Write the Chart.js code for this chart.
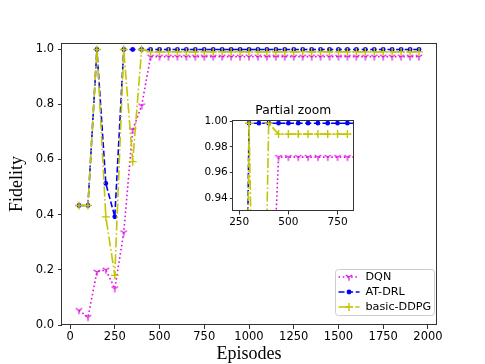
<!DOCTYPE html>
<html>
<head>
<meta charset="utf-8">
<script src="https://cdn.jsdelivr.net/npm/chart.js@4.4.1/dist/chart.umd.min.js"></script>
<style>
  html, body { margin: 0; padding: 0; background: #fff; }
  #wrap { position: relative; width: 485px; height: 364px; }
  #main { position: absolute; left: 0; top: 0; }
  #zoom { position: absolute; left: 190px; top: 95px; }
</style>
</head>
<body>
<div id="wrap">
  <canvas id="main" width="485" height="364"></canvas>
  <canvas id="zoom" width="170" height="135"></canvas>
</div>
<script>
// episodes (x values)
const episodes = [50, 100, 150, 200, 250, 300, 350, 400, 450, 500, 550, 600, 650, 700, 750, 800,
  850, 900, 950, 1000, 1050, 1100, 1150, 1200, 1250, 1300, 1350, 1400, 1450, 1500, 1550, 1600,
  1650, 1700, 1750, 1800, 1850, 1900, 1950];

// fidelity per method
const dqn = [0.053, 0.028, 0.192, 0.200, 0.132, 0.335, 0.707, 0.795, 0.972, 0.972, 0.972, 0.972,
  0.972, 0.972, 0.972, 0.972, 0.972, 0.972, 0.972, 0.972, 0.972, 0.972, 0.972, 0.972, 0.972,
  0.972, 0.972, 0.972, 0.972, 0.972, 0.972, 0.972, 0.972, 0.972, 0.972, 0.972, 0.972, 0.972, 0.972];
const atDrl = [0.433, 0.433, 0.9985, 0.513, 0.392, 0.9985, 0.9985, 0.9985, 0.9985, 0.9985, 0.9985,
  0.9985, 0.9985, 0.9985, 0.9985, 0.9985, 0.9985, 0.9985, 0.9985, 0.9985, 0.9985, 0.9985, 0.9985,
  0.9985, 0.9985, 0.9985, 0.9985, 0.9985, 0.9985, 0.9985, 0.9985, 0.9985, 0.9985, 0.9985, 0.9985,
  0.9985, 0.9985, 0.9985, 0.9985];
const basicDdpg = [0.433, 0.433, 0.9985, 0.392, 0.180, 0.9985, 0.592, 0.9985, 0.990, 0.990, 0.990,
  0.990, 0.990, 0.990, 0.990, 0.990, 0.990, 0.990, 0.990, 0.990, 0.990, 0.990, 0.990, 0.990, 0.990,
  0.990, 0.990, 0.990, 0.990, 0.990, 0.990, 0.990, 0.990, 0.990, 0.990, 0.990, 0.990, 0.990, 0.990];

const seriesNames = ['DQN', 'AT-DRL', 'basic-DDPG'];
const insetTitle = 'Partial zoom';

const MAGENTA = '#dd11dd';
const BLUE = '#0000ff';
const YELLOW = '#c4c400';

// matplotlib-like "tri_down" marker (a Y)
function triDown(color, r) {
  const c = document.createElement('canvas');
  const s = Math.ceil(r * 2 + 4);
  c.width = s; c.height = s;
  const g = c.getContext('2d');
  const m = s / 2;
  g.strokeStyle = color;
  g.lineWidth = 1.2;
  g.beginPath();
  g.moveTo(m, m); g.lineTo(m, m + r);
  g.moveTo(m, m); g.lineTo(m - r * 0.866, m - r * 0.5);
  g.moveTo(m, m); g.lineTo(m + r * 0.866, m - r * 0.5);
  g.stroke();
  return c;
}
const yMarker = triDown(MAGENTA, 3.8);

function toPoints(ys) {
  return episodes.map((x, i) => ({ x: x, y: ys[i] }));
}

function makeDatasets() {
  return [
    {
      label: seriesNames[0], data: toPoints(dqn), order: 2,
      borderColor: MAGENTA, backgroundColor: MAGENTA, borderWidth: 1.6,
      borderDash: [1.6, 2.6], pointStyle: yMarker, pointRadius: 4,
      tension: 0, fill: false
    },
    {
      label: seriesNames[1], data: toPoints(atDrl), order: 1,
      borderColor: BLUE, backgroundColor: BLUE, borderWidth: 1.6,
      borderDash: [6, 2.6], pointStyle: 'circle', pointRadius: 2.4, pointBorderWidth: 0,
      tension: 0, fill: false
    },
    {
      label: seriesNames[2], data: toPoints(basicDdpg), order: 0,
      borderColor: YELLOW, backgroundColor: YELLOW, borderWidth: 1.6,
      borderDash: [10, 2.6, 1.6, 2.6], pointStyle: 'cross', pointRadius: 4, pointBorderWidth: 1.4,
      tension: 0, fill: false
    }
  ];
}

// white axes background + frame on all four sides
const frame = {
  id: 'frame',
  beforeDatasetsDraw(chart) {
    const a = chart.chartArea, ctx = chart.ctx;
    ctx.save();
    ctx.fillStyle = '#fff';
    ctx.fillRect(a.left, a.top, a.right - a.left, a.bottom - a.top);
    ctx.restore();
  },
  afterDraw(chart) {
    const a = chart.chartArea, ctx = chart.ctx;
    ctx.save();
    ctx.strokeStyle = '#333';
    ctx.lineWidth = 1;
    ctx.strokeRect(Math.round(a.left) - 0.5, Math.round(a.top) + 0.5,
      Math.round(a.right) - Math.round(a.left) + 1, Math.round(a.bottom) - Math.round(a.top) - 1);
    ctx.restore();
  }
};

// title centred over the axes box (the inset's title)
const axesTitle = {
  id: 'axesTitle',
  afterDraw(chart, args, opts) {
    const a = chart.chartArea, ctx = chart.ctx;
    ctx.save();
    ctx.font = '12.3px "DejaVu Sans"';
    ctx.fillStyle = '#000';
    ctx.textAlign = 'center';
    ctx.textBaseline = 'alphabetic';
    ctx.fillText(opts.text, (a.left + a.right) / 2, a.top - 6);
    ctx.restore();
  }
};

function drawMarker(ctx, ds, x, y) {
  const st = ds.pointStyle;
  ctx.save();
  ctx.setLineDash([]);
  if (st instanceof HTMLCanvasElement) {
    ctx.drawImage(st, x - st.width / 2, y - st.height / 2);
  } else if (st === 'circle') {
    ctx.fillStyle = ds.backgroundColor;
    ctx.beginPath(); ctx.arc(x, y, ds.pointRadius, 0, Math.PI * 2); ctx.fill();
  } else if (st === 'cross') {
    ctx.strokeStyle = ds.borderColor; ctx.lineWidth = ds.pointBorderWidth;
    ctx.beginPath();
    ctx.moveTo(x - ds.pointRadius, y); ctx.lineTo(x + ds.pointRadius, y);
    ctx.moveTo(x, y - ds.pointRadius); ctx.lineTo(x, y + ds.pointRadius);
    ctx.stroke();
  }
  ctx.restore();
}

// legend box in the lower right of the axes
const boxLegend = {
  id: 'boxLegend',
  afterDraw(chart) {
    const a = chart.chartArea, ctx = chart.ctx;
    const w = 99, h = 46;
    const bx = a.right - w - 1.5, by = a.bottom - h - 9.5;
    ctx.save();
    ctx.fillStyle = 'rgba(255,255,255,0.8)';
    ctx.strokeStyle = '#cccccc';
    ctx.lineWidth = 1;
    ctx.beginPath();
    ctx.roundRect(bx, by, w, h, 3);
    ctx.fill(); ctx.stroke();
    ctx.font = '11.2px "DejaVu Sans"';
    ctx.textBaseline = 'middle';
    ctx.fillStyle = '#000';
    chart.data.datasets.forEach((ds, i) => {
      const yy = by + 7.5 + i * 15;
      ctx.save();
      ctx.strokeStyle = ds.borderColor;
      ctx.lineWidth = ds.borderWidth;
      ctx.setLineDash(ds.borderDash);
      ctx.beginPath(); ctx.moveTo(bx + 3, yy); ctx.lineTo(bx + 24, yy); ctx.stroke();
      ctx.restore();
      drawMarker(ctx, ds, bx + 13.5, yy);
      ctx.fillText(ds.label, bx + 30, yy);
    });
    ctx.restore();
  }
};

Chart.defaults.color = '#000';
Chart.defaults.font.family = '"DejaVu Sans"';

const tickFont = { family: '"DejaVu Sans"', size: 11.5 };
const titleFont = { family: '"Liberation Serif"', size: 18, lineHeight: 1.1 };
const axisGrid = { drawOnChartArea: false, drawTicks: true, tickLength: 4, color: '#333', lineWidth: 1 };

new Chart(document.getElementById('main'), {
  type: 'line',
  data: { datasets: makeDatasets() },
  options: {
    responsive: false,
    animation: false,
    layout: { padding: { top: 43, right: 49, left: 0, bottom: 0 } },
    plugins: { legend: { display: false }, tooltip: { enabled: false } },
    scales: {
      x: {
        type: 'linear', min: -45, max: 2045,
        afterFit(s) { s.height = 39; },
        border: { display: false },
        grid: axisGrid,
        ticks: {
          stepSize: 250, includeBounds: false, autoSkip: false, maxRotation: 0, padding: 1,
          font: tickFont, callback: v => String(v)
        },
        title: { display: true, text: 'Episodes', font: titleFont, padding: { top: 0, bottom: 0 } }
      },
      y: {
        type: 'linear', min: 0, max: 1.022,
        afterFit(s) { s.width = 62; },
        border: { display: false },
        grid: axisGrid,
        ticks: {
          stepSize: 0.2, includeBounds: false, autoSkip: false, padding: 4,
          font: tickFont, callback: v => v.toFixed(1)
        },
        title: { display: true, text: 'Fidelity', font: titleFont, padding: { top: 7, bottom: 0 } }
      }
    }
  },
  plugins: [frame, boxLegend]
});

// inset: "Partial zoom"
const insetTick = { family: '"DejaVu Sans"', size: 10.5 };
const insetGrid = { drawOnChartArea: false, drawTicks: true, tickLength: 3.5, color: '#333', lineWidth: 1 };

new Chart(document.getElementById('zoom'), {
  type: 'line',
  data: { datasets: makeDatasets() },
  options: {
    responsive: false,
    animation: false,
    layout: { padding: { top: 25, right: 6.7, left: 0, bottom: 0 } },
    plugins: {
      legend: { display: false }, tooltip: { enabled: false },
      axesTitle: { text: insetTitle }
    },
    scales: {
      x: {
        type: 'linear', min: 220, max: 830,
        afterFit(s) { s.height = 19; },
        border: { display: false },
        grid: insetGrid,
        ticks: {
          stepSize: 250, includeBounds: false, autoSkip: false, maxRotation: 0, padding: 1,
          font: insetTick, callback: v => String(v)
        }
      },
      y: {
        type: 'linear', min: 0.93, max: 1.001,
        afterFit(s) { s.width = 43.3; },
        border: { display: false },
        grid: insetGrid,
        ticks: {
          stepSize: 0.02, includeBounds: false, autoSkip: false, padding: 2,
          font: insetTick, callback: v => v.toFixed(2)
        }
      }
    }
  },
  plugins: [frame, axesTitle]
});
</script>
</body>
</html>
